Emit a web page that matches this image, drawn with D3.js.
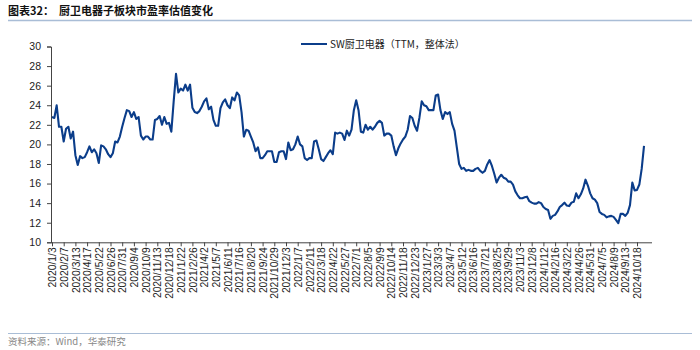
<!DOCTYPE html>
<html>
<head>
<meta charset="utf-8">
<script src="https://cdn.jsdelivr.net/npm/d3@7"></script>
<style>
  html, body { margin: 0; padding: 0; background: #fff; }
  svg { display: block; }
</style>
</head>
<body>
<svg id="chart" width="700" height="350"></svg>
<script>
// ---------------- DATA ----------------
const titleText = "图表32：  厨卫电器子板块市盈率估值变化";
const sourceText = "资料来源：Wind，华泰研究";
const seriesName = "SW厨卫电器（TTM，整体法）";

const startDate = "2020/1/3";   // weekly observations
const values = [
  22.8, 22.7, 24.0, 21.8, 21.8, 20.3, 21.6, 21.8, 20.6, 21.3,
  18.9, 17.9, 18.8, 18.6, 18.7, 19.2, 19.8, 19.2, 19.5, 19.1,
  18.1, 19.9, 19.8, 19.5, 19.0, 18.7, 19.1, 20.3, 20.2, 20.8,
  21.8, 22.7, 23.5, 23.4, 22.8, 23.3, 22.6, 22.8, 20.9, 20.5,
  20.8, 20.8, 20.5, 20.5, 22.5, 22.6, 22.9, 22.0, 22.8, 22.1,
  22.2, 21.3, 24.4, 27.2, 25.3, 25.7, 25.5, 26.1, 25.5, 26.1,
  23.75, 23.3, 23.2, 23.4, 23.85, 24.4, 24.7, 23.6, 23.85, 22.5,
  21.9, 21.9, 23.7, 24.3, 24.6, 24.0, 23.7, 24.8, 24.5, 25.3,
  25.0, 23.3, 20.8, 21.5, 21.4, 20.8, 20.2, 19.3, 19.7, 18.6,
  18.6, 18.9, 19.3, 19.3, 19.3, 18.2, 18.2, 19.2, 19.3, 19.3,
  18.5, 20.2, 19.4, 19.5, 20.0, 20.8, 20.0, 19.8, 18.6, 18.4,
  18.6, 18.6, 20.3, 20.4, 19.5, 18.5, 18.3, 18.7, 19.1, 19.4,
  19.0, 21.2, 21.1, 21.2, 21.1, 20.45, 21.4, 20.9, 21.5, 23.5,
  24.5, 23.5, 21.3, 21.2, 22.0, 21.5, 21.8, 21.5, 21.8, 22.2,
  22.4, 22.2, 20.9, 21.1, 21.1, 20.9, 19.8, 18.9, 19.6, 20.1,
  20.5, 20.8, 21.5, 22.9, 22.7, 21.9, 21.4, 22.7, 24.4, 24.0,
  23.9, 23.5, 23.5, 23.5, 25.0, 25.1, 23.5, 22.6, 23.3, 23.1,
  23.3, 22.1, 21.4, 19.7, 18.0, 17.5, 17.6, 17.3, 17.4, 17.3,
  17.3, 17.5, 17.6, 17.3, 17.1, 17.3, 17.95, 18.4, 17.8, 17.0,
  16.1, 16.6, 16.9, 16.6, 16.5, 16.2, 16.2, 15.9, 15.2, 14.8,
  14.5, 14.5, 14.6, 14.66, 14.2, 14.05, 13.95, 13.95, 14.1, 14.0,
  13.6, 13.4, 13.3, 12.4, 12.7, 12.8, 13.15, 13.6, 13.8, 14.05,
  13.75, 13.7, 14.05, 14.15, 15.0, 14.5, 14.9, 15.5, 16.4, 15.8,
  15.0, 14.5, 14.35, 14.0, 13.1, 12.9, 12.8, 12.55, 12.65, 12.7,
  12.6, 12.3, 11.95, 12.9, 12.9, 12.7, 13.0, 13.8, 16.1, 15.3,
  15.35, 15.9, 17.5, 19.85
];

const tickLabels = [
  "2020/1/3","2020/2/7","2020/3/13","2020/4/17","2020/5/22","2020/6/26","2020/7/31","2020/9/4",
  "2020/10/9","2020/11/13","2020/12/18","2021/1/22","2021/2/26","2021/4/2","2021/5/7","2021/6/11",
  "2021/7/16","2021/8/20","2021/9/24","2021/10/29","2021/12/3","2022/1/7","2022/2/11","2022/3/18",
  "2022/4/22","2022/5/27","2022/7/1","2022/8/5","2022/9/9","2022/10/14","2022/11/18","2022/12/23",
  "2023/1/27","2023/3/3","2023/4/7","2023/5/12","2023/6/16","2023/7/21","2023/8/25","2023/9/29",
  "2023/11/3","2023/12/8","2024/1/12","2024/2/16","2024/3/22","2024/4/26","2024/5/31","2024/7/5",
  "2024/8/9","2024/9/13","2024/10/18"
];

const yTicks = [10, 12, 14, 16, 18, 20, 22, 24, 26, 28, 30];

// categories: weekly dates
const parse = d3.timeParse("%Y/%-m/%-d");
const fmt = d => `${d.getFullYear()}/${d.getMonth() + 1}/${d.getDate()}`;
const categories = values.map((_, i) => fmt(d3.timeDay.offset(parse(startDate), 7 * i)));
const data = categories.map((c, i) => ({ cat: c, v: values[i] }));

// ---------------- LAYOUT ----------------
const svg = d3.select("#chart");
const left = 51, plotTop = 46.5, plotBottom = 242.3;
const firstX = 52, step = 2.34;
const lineColor = "#0b3d8a";
const font = "'Liberation Sans', Arial, sans-serif";
const cjk = "'Noto Sans CJK SC', 'Liberation Sans', sans-serif";

const x = d3.scalePoint()
  .domain(categories)
  .range([firstX, firstX + step * (categories.length - 1)]);
const y = d3.scaleLinear().domain([10, 30]).range([plotBottom, plotTop]);

// Title
svg.append("text")
  .attr("x", 8).attr("y", 15)
  .attr("font-family", cjk).attr("font-weight", "bold")
  .attr("font-size", 11).attr("fill", "#111")
  .attr("xml:space", "preserve")
  .text(titleText);
svg.append("line")
  .attr("x1", 8).attr("x2", 692).attr("y1", 20.5).attr("y2", 20.5)
  .attr("stroke", "#a9bdd6").attr("stroke-width", 1.5);

// Y axis
const yAxis = d3.axisLeft(y).tickValues(yTicks).tickSize(4).tickPadding(6);
const gy = svg.append("g").attr("transform", `translate(${left},0)`).call(yAxis);
gy.select(".domain").attr("stroke", "#444");
gy.selectAll(".tick line").attr("stroke", "#444");
gy.selectAll(".tick text").attr("font-family", font).attr("font-size", 10.5).attr("fill", "#222");

// X axis
const xAxis = d3.axisBottom(x).tickValues(tickLabels).tickSize(4).tickSizeOuter(0);
const gx = svg.append("g").attr("transform", `translate(0,${plotBottom})`).call(xAxis);
gx.select(".domain").attr("d", `M${left},0.5H652`).attr("stroke", "#444");
gx.selectAll(".tick line").attr("stroke", "#444");
gx.selectAll(".tick text")
  .attr("font-family", font).attr("font-size", 10.3).attr("fill", "#222")
  .attr("transform", "rotate(-90)")
  .attr("text-anchor", "end")
  .attr("dy", "0.35em")
  .attr("x", -5).attr("y", 0);

// Line
const line = d3.line().x(d => x(d.cat)).y(d => y(d.v));
svg.append("path")
  .datum(data)
  .attr("d", line)
  .attr("fill", "none")
  .attr("stroke", lineColor)
  .attr("stroke-width", 2.1)
  .attr("stroke-linejoin", "round");

// Legend
svg.append("line")
  .attr("x1", 301).attr("x2", 327).attr("y1", 44).attr("y2", 44)
  .attr("stroke", lineColor).attr("stroke-width", 2);
svg.append("text")
  .attr("x", 330).attr("y", 47.5)
  .attr("font-family", cjk).attr("font-size", 10).attr("fill", "#222")
  .text(seriesName);

// Footer
svg.append("line")
  .attr("x1", 8).attr("x2", 692).attr("y1", 333.5).attr("y2", 333.5)
  .attr("stroke", "#a9bdd6").attr("stroke-width", 1);
svg.append("text")
  .attr("x", 8).attr("y", 345)
  .attr("font-family", cjk).attr("font-size", 9.5).attr("fill", "#888")
  .text(sourceText);
</script>
</body>
</html>
